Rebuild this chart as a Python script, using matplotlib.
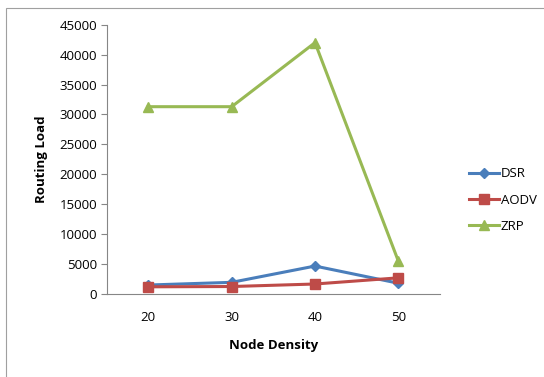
import matplotlib
matplotlib.use("Agg")
import matplotlib.pyplot as plt
from matplotlib.patches import Rectangle

categories = ["20", "30", "40", "50"]
dsr = [1500, 1950, 4670, 1800]
aodv = [1200, 1250, 1670, 2700]
zrp = [31300, 31300, 42000, 5500]
yticks = [0, 5000, 10000, 15000, 20000, 25000, 30000, 35000, 40000, 45000]

plt.rcParams['font.family'] = ['Open Sans', 'DejaVu Sans']

fig = plt.figure(figsize=(5.44, 3.77), dpi=100)
fig.patches.append(Rectangle((6/544, -0.1), 1.1, 1 - 7.5/377 + 0.1, transform=fig.transFigure,
                             fill=False, edgecolor='#a0a0a0', linewidth=0.8))
ax = fig.add_axes([106.7/544, 1 - 294/377, 333.3/544, (294 - 24.7)/377])

x = list(range(len(categories)))
ax.plot(x, dsr, color='#4A7EBB', lw=2.2, marker='D', ms=5.5, label='DSR', zorder=3)
ax.plot(x, aodv, color='#BE4B48', lw=2.2, marker='s', ms=7, label='AODV', zorder=3)
ax.plot(x, zrp, color='#98B954', lw=2.2, marker='^', ms=7.5, label='ZRP', zorder=2)

ax.set_xlim(-0.5, 3.5)
ax.set_ylim(0, 45000)
ax.set_yticks(yticks)
ax.set_xticks(x)
ax.set_xticklabels(categories)
for s in ['top', 'right']:
    ax.spines[s].set_visible(False)
for s in ['left', 'bottom']:
    ax.spines[s].set_color('#868686')
ax.tick_params(axis='y', length=4, color='#868686', labelsize=9.5, pad=3)
ax.tick_params(axis='x', length=0, labelsize=9.5, pad=12)
ax.set_xlabel('Node Density', fontsize=9.5, fontweight='bold', labelpad=11)
ax.set_ylabel('Routing Load', fontsize=9.5, fontweight='bold', labelpad=8)

ax.legend(loc='center left', bbox_to_anchor=(457/544, 1 - 200/377), bbox_transform=fig.transFigure,
          frameon=False, fontsize=9.5, handlelength=2.3, labelspacing=1.0, handletextpad=0.1)

fig.savefig('out.png', dpi=100)
